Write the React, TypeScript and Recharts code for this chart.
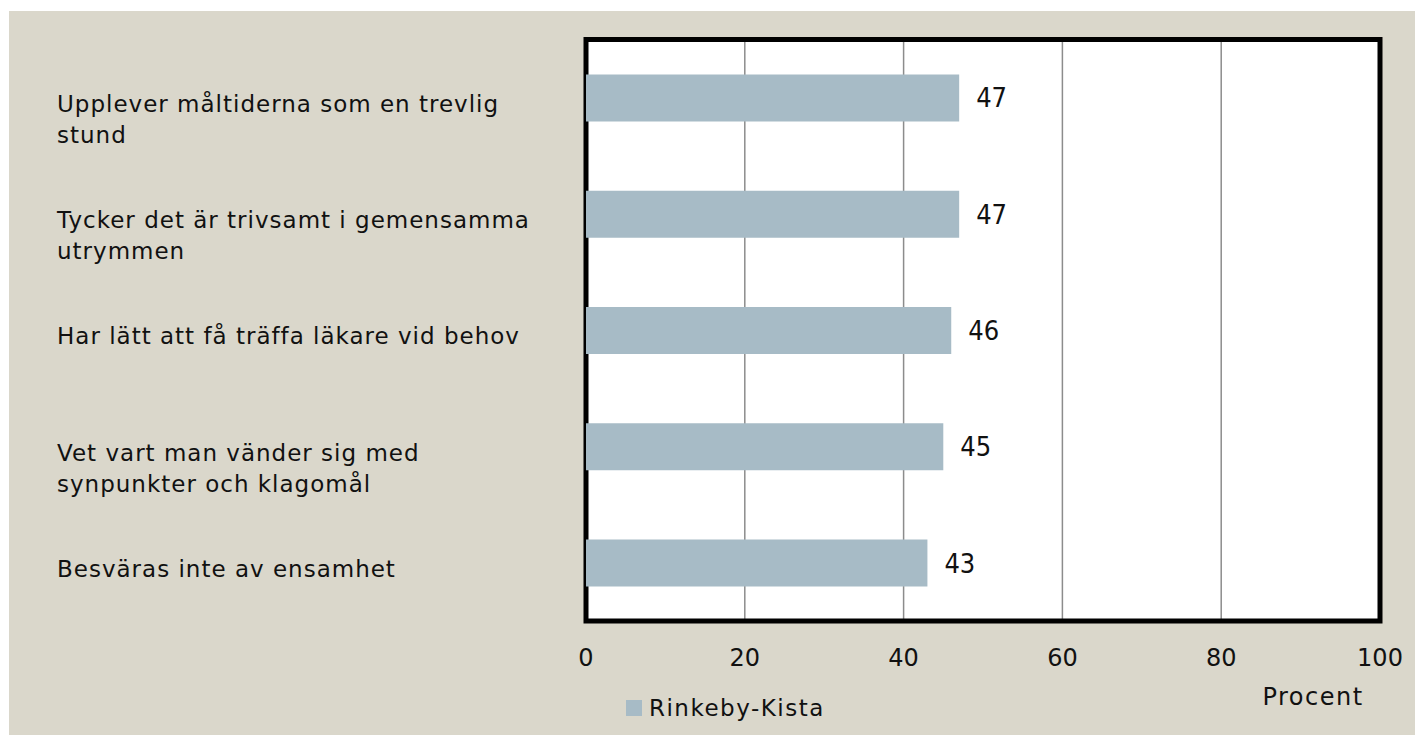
import React from 'react';
import { BarChart, Bar, XAxis, YAxis, CartesianGrid, ReferenceArea, LabelList, Legend } from 'recharts';

const categories: string[] = [
  'Upplever måltiderna som en trevlig\nstund',
  'Tycker det är trivsamt i gemensamma\nutrymmen',
  'Har lätt att få träffa läkare vid behov',
  'Vet vart man vänder sig med\nsynpunkter och klagomål',
  'Besväras inte av ensamhet',
];
const values: number[] = [47, 47, 46, 45, 43];
const xTicks: number[] = [0, 20, 40, 60, 80, 100];
const seriesName = 'Rinkeby-Kista';
const axisTitle = 'Procent';

const data = categories.map((c, i) => ({ name: c, value: values[i] }));

const W = 1406;
const H = 724;
const FONT = "'DejaVu Sans', sans-serif";
const NUM_FONT = "'Liberation Sans Narrow', 'DejaVu Sans Condensed', sans-serif";
const BG = '#DAD7CB';
const BAR = '#A7BBC6';

function YTick(props: any) {
  const { y, payload } = props;
  const lines = String(payload.value).split('\n');
  return (
    <g>
      {lines.map((l, i) => (
        <text key={i} x={48} y={y + 14 + i * 31} fontSize={23} letterSpacing={1} fontFamily={FONT} fill="#111" textAnchor="start">
          {l}
        </text>
      ))}
    </g>
  );
}

function XTick(props: any) {
  const { x, y, payload } = props;
  return (
    <text x={x} y={y + 45} fontSize={24} fontFamily={FONT} fill="#111" textAnchor="middle">
      {payload.value}
    </text>
  );
}

function AxisTitle(props: any) {
  const vb = props.viewBox || {};
  return (
    <text x={vb.x + vb.width - 67} y={vb.y + 84} fontSize={24} letterSpacing={1.5} fontFamily={FONT} fill="#111" textAnchor="middle">
      {axisTitle}
    </text>
  );
}

function LegendContent() {
  return (
    <div style={{ display: 'flex', alignItems: 'center', height: 24, fontFamily: FONT, fontSize: 23, letterSpacing: 1.5, color: '#111' }}>
      <span style={{ display: 'inline-block', width: 16, height: 16, background: BAR, marginRight: 7 }} />
      <span>{seriesName}</span>
    </div>
  );
}

export default function App() {
  return (
    <div style={{ position: 'absolute', left: 9, top: 11, width: W, height: H, background: BG }}>
      <BarChart
        width={W}
        height={H}
        data={data}
        layout="vertical"
        margin={{ top: 28.5, right: 35, left: 0, bottom: 50 }}
        barCategoryGap="30%"
      >
        <CartesianGrid horizontal={false} fill="#ffffff" stroke="#8c8c8c" strokeWidth={1.5} />
        <ReferenceArea x1={0} x2={100} fill="none" stroke="#000" strokeWidth={5} />
        <XAxis
          type="number"
          domain={[0, 100]}
          ticks={xTicks}
          height={40}
          axisLine={false}
          tickLine={false}
          tickSize={0}
          tickMargin={0}
          tick={<XTick />}
          label={<AxisTitle />}
          interval={0}
        />
        <YAxis
          type="category"
          dataKey="name"
          width={577}
          axisLine={false}
          tickLine={false}
          tickSize={0}
          tickMargin={0}
          tick={<YTick />}
          interval={0}
        />
        <Legend
          verticalAlign="bottom"
          content={<LegendContent />}
          wrapperStyle={{ left: 617, top: 685, bottom: 'auto', width: 300, height: 24 }}
        />
        <Bar dataKey="value" name={seriesName} fill={BAR} isAnimationActive={false}>
          <LabelList
            dataKey="value"
            position="right"
            offset={17}
            fill="#111"
            fontSize={27}
            fontFamily={NUM_FONT}
          />
        </Bar>
      </BarChart>
    </div>
  );
}
